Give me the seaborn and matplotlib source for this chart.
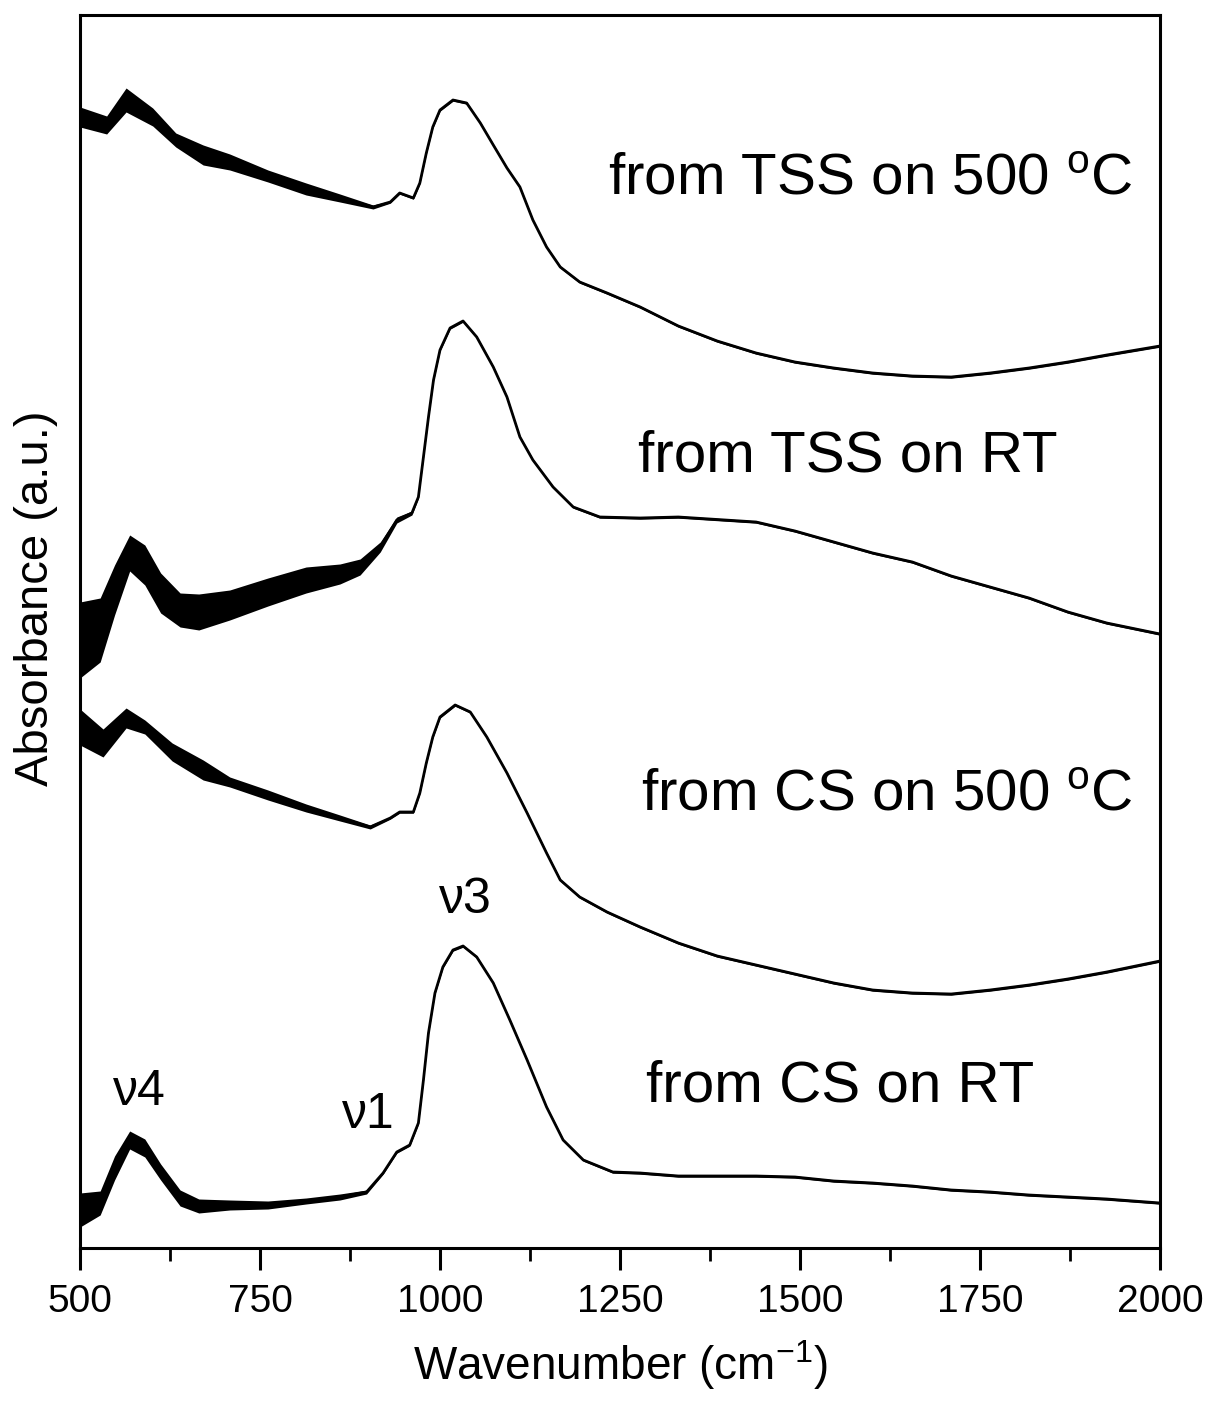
import matplotlib
matplotlib.use("Agg")
import matplotlib.pyplot as plt
from matplotlib.ticker import MultipleLocator
import numpy as np
import pandas as pd
import seaborn as sns

# FTIR spectra (absorbance in arbitrary, offset units)
wn_tss500 = [500, 537, 564, 601, 633, 671, 708, 761, 814, 861,
             907, 931, 944, 963, 972, 981, 990, 1000, 1018, 1037,
             1056, 1074, 1093, 1111, 1129, 1148, 1167, 1194, 1232, 1278,
             1331, 1385, 1439, 1493, 1547, 1601, 1656, 1710, 1764, 1818,
             1872, 1926, 2000]
abs_tss500 = [11.31, 11.23, 11.48, 11.31, 11.08, 10.93, 10.86, 10.72, 10.59, 10.50,
              10.41, 10.46, 10.55, 10.50, 10.65, 10.95, 11.21, 11.38, 11.48, 11.45,
              11.25, 11.03, 10.80, 10.61, 10.28, 10.01, 9.81, 9.66, 9.55, 9.41,
              9.22, 9.07, 8.95, 8.86, 8.80, 8.75, 8.72, 8.71, 8.75, 8.80,
              8.86, 8.93, 9.02]
noise_tss500 = [0.10, 0.09, 0.12, 0.09, 0.07, 0.10, 0.08, 0.06, 0.06, 0.04, 0.02]

wn_tssrt = [500, 528, 548, 569, 590, 612, 639, 665, 708, 761,
            814, 861, 889, 917, 940, 961, 970, 977, 984, 991,
            1000, 1014, 1032, 1051, 1074, 1093, 1111, 1129, 1157, 1185,
            1222, 1278, 1331, 1439, 1493, 1547, 1601, 1656, 1710, 1764,
            1818, 1872, 1926, 2000]
abs_tssrt = [6.08, 6.18, 6.58, 6.95, 6.83, 6.55, 6.38, 6.36, 6.43, 6.56,
             6.68, 6.74, 6.81, 7.01, 7.28, 7.35, 7.51, 7.91, 8.31, 8.68,
             8.98, 9.20, 9.27, 9.11, 8.81, 8.51, 8.11, 7.88, 7.61, 7.41,
             7.31, 7.30, 7.31, 7.26, 7.17, 7.06, 6.95, 6.86, 6.72, 6.61,
             6.50, 6.36, 6.25, 6.14]
noise_tssrt = [0.38, 0.32, 0.25, 0.18, 0.20, 0.20, 0.17, 0.18, 0.15, 0.14,
               0.13, 0.10, 0.08, 0.05, 0.03, 0.02]

wn_cs500 = [500, 532, 564, 590, 628, 671, 708, 761, 814, 861,
            903, 931, 944, 963, 972, 981, 990, 1000, 1021, 1042,
            1065, 1093, 1121, 1148, 1167, 1194, 1232, 1278, 1331, 1385,
            1439, 1493, 1547, 1601, 1656, 1710, 1764, 1818, 1872, 1926,
            2000]
abs_cs500 = [5.21, 5.05, 5.30, 5.21, 4.96, 4.78, 4.66, 4.53, 4.40, 4.30,
             4.21, 4.30, 4.36, 4.36, 4.55, 4.85, 5.11, 5.31, 5.43, 5.36,
             5.11, 4.75, 4.35, 3.95, 3.68, 3.51, 3.36, 3.21, 3.05, 2.92,
             2.83, 2.74, 2.65, 2.58, 2.55, 2.54, 2.58, 2.63, 2.69, 2.76,
             2.87]
noise_cs500 = [0.18, 0.14, 0.10, 0.07, 0.09, 0.10, 0.05, 0.05, 0.04, 0.03, 0.02]

wn_csrt = [500, 528, 548, 569, 590, 612, 639, 665, 708, 761,
           814, 861, 898, 921, 940, 958, 970, 977, 984, 993,
           1004, 1018, 1032, 1051, 1074, 1097, 1121, 1148, 1171, 1199,
           1240, 1278, 1331, 1439, 1493, 1547, 1601, 1656, 1710, 1764,
           1818, 1872, 1926, 2000]
abs_csrt = [0.38, 0.45, 0.80, 1.08, 1.00, 0.76, 0.50, 0.42, 0.43, 0.43,
            0.47, 0.51, 0.56, 0.75, 0.96, 1.03, 1.25, 1.68, 2.15, 2.55,
            2.81, 2.98, 3.02, 2.91, 2.65, 2.28, 1.88, 1.41, 1.08, 0.88,
            0.76, 0.75, 0.72, 0.72, 0.71, 0.67, 0.65, 0.62, 0.58, 0.56,
            0.53, 0.51, 0.49, 0.45]
noise_csrt = [0.17, 0.12, 0.12, 0.09, 0.09, 0.08, 0.08, 0.07, 0.05, 0.04, 0.03, 0.03, 0.02]

labels = ["from TSS on 500 $^{\\rm o}$C", "from TSS on RT", "from CS on 500 $^{\\rm o}$C", "from CS on RT"]
label_x = [1597, 1567, 1621, 1556]
label_y = [10.54, 7.77, 4.38, 1.46]

band_names = ["\u03bd4", "\u03bd1", "\u03bd3"]
band_x = [583, 900, 1035]
band_y = [1.43, 1.20, 3.35]

sns.set_style("white")
plt.rcParams['font.family'] = ['Liberation Sans', 'DejaVu Sans']
plt.rcParams['mathtext.fontset'] = 'custom'
plt.rcParams['mathtext.rm'] = 'Liberation Sans'
plt.rcParams['mathtext.it'] = 'Liberation Sans:italic'
plt.rcParams['text.color'] = 'black'
plt.rcParams['axes.labelcolor'] = 'black'
plt.rcParams['xtick.color'] = 'black'

fig = plt.figure(figsize=(12.12, 14.05), dpi=100)
ax = fig.add_axes([80 / 1212, 157 / 1405, 1080 / 1212, 1233 / 1405])

spectra = [(wn_tss500, abs_tss500, noise_tss500),
           (wn_tssrt, abs_tssrt, noise_tssrt),
           (wn_cs500, abs_cs500, noise_cs500),
           (wn_csrt, abs_csrt, noise_csrt)]

for wn, ab, noise in spectra:
    df = pd.DataFrame({"wn": wn, "abs": ab})
    band = np.array(noise + [0.012] * (len(wn) - len(noise)))
    ax.fill_between(df["wn"], df["abs"] - band, df["abs"] + band, color="black", lw=0)
    sns.lineplot(data=df, x="wn", y="abs", ax=ax, color="black", lw=2.0,
                 estimator=None, sort=False)

for txt, x, y in zip(labels, label_x, label_y):
    ax.text(x, y, txt, fontsize=42, ha="center", va="baseline")
for txt, x, y in zip(band_names, band_x, band_y):
    ax.text(x, y, txt, fontsize=36, ha="center", va="baseline")

ax.set_xlim(500, 2000)
ax.set_ylim(0, 12.33)
ax.set_yticks([])
ax.xaxis.set_major_locator(MultipleLocator(250))
ax.xaxis.set_minor_locator(MultipleLocator(125))
ax.tick_params(axis="x", which="major", direction="out", length=16, width=2.2,
               labelsize=28, pad=10, bottom=True)
ax.tick_params(axis="x", which="minor", direction="out", length=9, width=2.0, bottom=True)
for sp in ax.spines.values():
    sp.set_linewidth(2.2)
    sp.set_color("black")

ax.set_xlabel("Wavenumber (cm$^{-1}$)", fontsize=33)
ax.set_ylabel("Absorbance (a.u.)", fontsize=34)
ax.xaxis.set_label_coords(0.5, -0.073)
ax.yaxis.set_label_coords(-0.02, 0.527)

fig.savefig("out.png", dpi=100)
